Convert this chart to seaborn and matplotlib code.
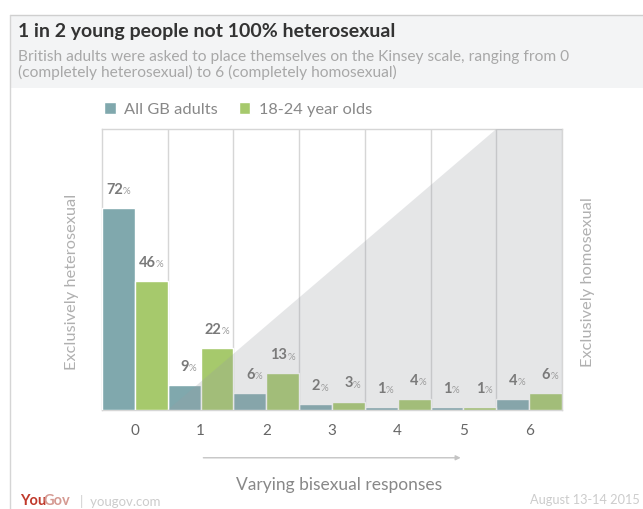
import matplotlib
matplotlib.use("Agg")
import matplotlib.pyplot as plt
import seaborn as sns
import pandas as pd
from matplotlib.patches import Rectangle
from matplotlib.lines import Line2D

# ---- data ----
kinsey = ["0", "1", "2", "3", "4", "5", "6"]
all_gb = [72, 9, 6, 2, 1, 1, 4]
young = [46, 22, 13, 3, 4, 1, 6]
series_names = ["All GB adults", "18-24 year olds"]

df = pd.DataFrame({
    "kinsey": kinsey * 2,
    "pct": all_gb + young,
    "group": [series_names[0]] * len(kinsey) + [series_names[1]] * len(kinsey),
})

BLUE = "#80a8ad"
GREEN = "#a6c96c"
FONT = ["Lato", "DejaVu Sans"]

sns.set_style("white")
plt.rcParams["font.family"] = FONT

W, H = 643, 509
fig = plt.figure(figsize=(W / 100, H / 100), dpi=100)
fig.patch.set_facecolor("white")

# header band and card border
fig.patches.append(Rectangle((10 / W, 1 - 88 / H), 1, (88 - 15) / H, transform=fig.transFigure,
                             facecolor="#f3f4f5", edgecolor="none", zorder=0))
fig.add_artist(Line2D([10 / W, 1], [1 - 15 / H, 1 - 15 / H], transform=fig.transFigure,
                      color="#cfcfcf", lw=1))
fig.add_artist(Line2D([10 / W, 10 / W], [0, 1 - 15 / H], transform=fig.transFigure,
                      color="#d5d5d5", lw=1))

fig.text(18 / W, 1 - 32 / H, "1 in 2 young people not 100% heterosexual", fontsize=14,
         fontweight="bold", color="#333333", va="center", ha="left")
fig.text(18 / W, 1 - 57 / H,
         "British adults were asked to place themselves on the Kinsey scale, ranging from 0",
         fontsize=11.2, color="#a8a8a8", va="center", ha="left")
fig.text(18 / W, 1 - 72 / H, "(completely heterosexual) to 6 (completely homosexual)",
         fontsize=11.2, color="#a8a8a8", va="center", ha="left")

ax = fig.add_axes([102 / W, 1 - 410 / H, 460 / W, 281 / H])
sns.barplot(data=df, x="kinsey", y="pct", hue="group", palette=[BLUE, GREEN],
            width=1.0, gap=0, saturation=1, ax=ax, zorder=3)
ax.set_ylim(0, 100)
ax.set_xlim(-0.5, 6.5)
ax.set_xlabel("")
ax.set_ylabel("")
ax.set_yticks([])
ax.tick_params(axis="x", length=0, pad=10, labelsize=11, labelcolor="#666666")
for s in ax.spines.values():
    s.set_color("#d6d6d6")
    s.set_linewidth(1)

# column dividers
for b in range(len(kinsey) - 1):
    ax.axvline(b + 0.5, color="#d6d6d6", lw=1, zorder=1)

# gray diagonal region (overlay)
ax.fill([0.5, 5.5, 6.5, 6.5], [0, 100, 100, 0], color="#999da3", alpha=0.25, lw=0, zorder=4)

# value labels
for cont in ax.containers:
    for bar in cont:
        xc = bar.get_x() + bar.get_width() / 2
        h = bar.get_height()
        ax.annotate(f"{h:.0f}", (xc + 0.07, h), xytext=(0, 8), textcoords="offset points",
                    ha="right", va="bottom", fontsize=10.5, fontweight="bold", color="#7a7a7a",
                    zorder=6)
        ax.annotate("%", (xc + 0.07, h), xytext=(0, 8.5), textcoords="offset points",
                    ha="left", va="bottom", fontsize=7, color="#9a9a9a", zorder=6)

# legend
sns.move_legend(ax, "center left", bbox_to_anchor=(0.005, 1.07), ncol=2, frameon=False,
                title=None, fontsize=11.8, handlelength=0.7, handleheight=0.7,
                handletextpad=0.5, columnspacing=1.3, borderpad=0, borderaxespad=0)
for t in ax.get_legend().get_texts():
    t.set_color("#888888")

# side labels
fig.text(72 / W, 1 - 282 / H, "Exclusively heterosexual", rotation=90, fontsize=11.8,
         color="#b0b0b0", ha="center", va="center")
fig.text(588 / W, 1 - 282 / H, "Exclusively homosexual", rotation=90, fontsize=11.8,
         color="#b0b0b0", ha="center", va="center")

# bisexual arrow
ax.annotate("", xy=(5, -0.17), xytext=(1, -0.17), xycoords=("data", "axes fraction"),
            textcoords=("data", "axes fraction"), annotation_clip=False,
            arrowprops=dict(arrowstyle="-|>", color="#c4c4c4", lw=1, mutation_scale=7))
ax.text(0.515, -0.267, "Varying bisexual responses", transform=ax.transAxes, fontsize=12.5,
        color="#888888", ha="center", va="center")

# footer
fig.text(20 / W, 8 / H, "You", fontsize=10.5, fontweight="bold", color="#c0392b",
         ha="left", va="center")
fig.text(44 / W, 8 / H, "Gov", fontsize=10.5, fontweight="bold", color="#d59a92",
         ha="left", va="center")
fig.text(80 / W, 8 / H, "|  yougov.com", fontsize=9.5, color="#cccccc", ha="left", va="center")
fig.text(530 / W, 1 - 500 / H, "August 13-14 2015", fontsize=9.2, color="#cccccc",
         ha="left", va="center")

fig.savefig("out.png", dpi=100)
